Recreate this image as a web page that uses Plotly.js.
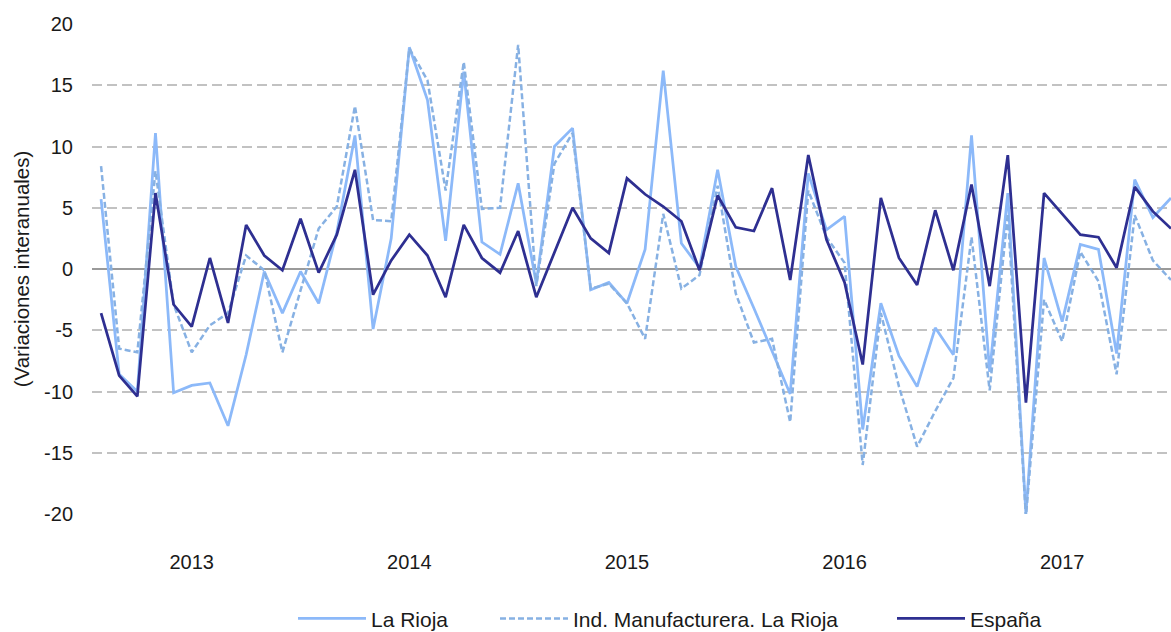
<!DOCTYPE html>
<html>
<head>
<meta charset="utf-8">
<script src="https://cdn.plot.ly/plotly-3.0.1.min.js"></script>
<style>
html,body{margin:0;padding:0;background:#fff;}
#chart{width:1171px;height:632px;}
</style>
</head>
<body>
<div id="chart"></div>
<script>
// Months: Aug 2012 .. Jul 2017
var months = [
 "2012-08","2012-09","2012-10","2012-11","2012-12",
 "2013-01","2013-02","2013-03","2013-04","2013-05","2013-06","2013-07","2013-08","2013-09","2013-10","2013-11","2013-12",
 "2014-01","2014-02","2014-03","2014-04","2014-05","2014-06","2014-07","2014-08","2014-09","2014-10","2014-11","2014-12",
 "2015-01","2015-02","2015-03","2015-04","2015-05","2015-06","2015-07","2015-08","2015-09","2015-10","2015-11","2015-12",
 "2016-01","2016-02","2016-03","2016-04","2016-05","2016-06","2016-07","2016-08","2016-09","2016-10","2016-11","2016-12",
 "2017-01","2017-02","2017-03","2017-04","2017-05","2017-06","2017-07"
];

var laRioja = [
 5.7, -8.6, -10.0, 11.1, -10.1, -9.5, -9.3, -12.8, -7.0, -0.2,
 -3.6, -0.2, -2.8, 3.0, 10.9, -4.9, 2.5, 18.1, 13.8, 2.3,
 16.1, 2.2, 1.2, 7.0, -1.2, 10.0, 11.5, -1.7, -1.1, -2.8,
 1.6, 16.2, 2.1, 0.1, 8.1, 0.2, -3.2, -6.7, -10.2, 7.8,
 3.2, 4.3, -13.1, -2.8, -7.1, -9.6, -4.8, -7.0, 10.9, -8.4,
 6.2, -20.0, 0.9, -4.3, 2.0, 1.6, -6.9, 7.3, 4.2, 5.8
];

var indManufacturera = [
 8.4, -6.5, -6.8, 8.0, -2.9, -6.8, -4.6, -3.6, 1.1, -0.1,
 -6.8, -1.8, 3.3, 5.1, 13.3, 4.0, 3.9, 18.0, 15.4, 6.4,
 16.9, 4.9, 5.0, 18.3, -1.4, 8.6, 11.1, -1.6, -1.2, -2.8,
 -5.7, 4.5, -1.6, -0.5, 6.8, -2.0, -6.0, -5.7, -12.5, 6.4,
 2.6, 0.5, -16.0, -3.6, -9.6, -14.5, -11.6, -8.9, 2.6, -9.9,
 4.5, -20.2, -2.5, -5.9, 1.4, -1.0, -8.6, 4.4, 0.7, -0.9
];

var espana = [
 -3.6, -8.7, -10.4, 6.2, -2.9, -4.7, 0.9, -4.4, 3.6, 1.1,
 -0.1, 4.1, -0.3, 2.8, 8.1, -2.1, 0.7, 2.8, 1.1, -2.3,
 3.6, 0.9, -0.3, 3.1, -2.3, 1.3, 5.0, 2.5, 1.3, 7.4,
 6.1, 5.1, 3.9, -0.1, 6.0, 3.4, 3.1, 6.6, -0.9, 9.3,
 2.4, -1.1, -7.8, 5.8, 0.9, -1.3, 4.8, -0.1, 6.9, -1.4,
 9.3, -10.9, 6.2, 4.5, 2.8, 2.6, 0.1, 6.7, 4.7, 3.3
];

var seriesNames = ["La Rioja", "Ind. Manufacturera. La Rioja", "España"];
var yearTickVals = ["2013-01","2014-01","2015-01","2016-01","2017-01"];
var yearTickText = ["2013","2014","2015","2016","2017"];
var yTickVals = [-20, -15, -10, -5, 0, 5, 10, 15, 20];
var yTickText = ["-20", "-15", "-10", "-5", "0", "5", "10", "15", "20"];

var FONT = '"Liberation Sans", Arial, Helvetica, sans-serif';
var TXT = "#1a1a1a";

var traces = [
  {x: months, y: laRioja, name: seriesNames[0], type: "scatter", mode: "lines", legend: "legend",
   line: {color: "#8cb9f9", width: 2.75}},
  {x: months, y: indManufacturera, name: seriesNames[1], type: "scatter", mode: "lines", legend: "legend2",
   line: {color: "#87b1e3", width: 2.5, dash: "6px,3px"}},
  {x: months, y: espana, name: seriesNames[2], type: "scatter", mode: "lines", legend: "legend3",
   line: {color: "#2e2f91", width: 2.75}}
];

function legendAt(px) {
  return {
    orientation: "h", x: (px - 92) / 1079, xanchor: "left", y: -0.172, yanchor: "top",
    font: {family: FONT, size: 21, color: TXT},
    itemwidth: 68, bgcolor: "rgba(0,0,0,0)", borderwidth: 0
  };
}

var layout = {
  width: 1171, height: 632,
  margin: {l: 92, r: 0, t: 24, b: 118, autoexpand: false},
  paper_bgcolor: "#ffffff",
  plot_bgcolor: "#ffffff",
  font: {family: FONT, size: 20, color: TXT},
  showlegend: true,
  legend: legendAt(293),
  legend2: legendAt(495),
  legend3: legendAt(892),
  xaxis: {
    type: "category",
    range: [-0.5, 59],
    tickmode: "array",
    tickvals: yearTickVals,
    ticktext: yearTickText,
    showgrid: false,
    zeroline: false,
    showline: false,
    ticks: "",
    ticklabelstandoff: 34,
    tickfont: {family: FONT, size: 20, color: TXT}
  },
  yaxis: {
    range: [-20, 20],
    tickmode: "array",
    tickvals: yTickVals,
    ticktext: yTickText,
    showgrid: true,
    gridcolor: "#c2c2c2",
    gridwidth: 2,
    griddash: "10px,5px",
    zeroline: true,
    zerolinecolor: "#9a9a9a",
    zerolinewidth: 1.5,
    showline: false,
    ticks: "",
    ticklabelstandoff: 18,
    tickfont: {family: FONT, size: 20, color: TXT},
    title: {text: "(Variaciones interanuales)", font: {family: FONT, size: 20.5, color: TXT}, standoff: 8}
  }
};

Plotly.newPlot("chart", traces, layout, {displayModeBar: false, staticPlot: true});
</script>
</body>
</html>
